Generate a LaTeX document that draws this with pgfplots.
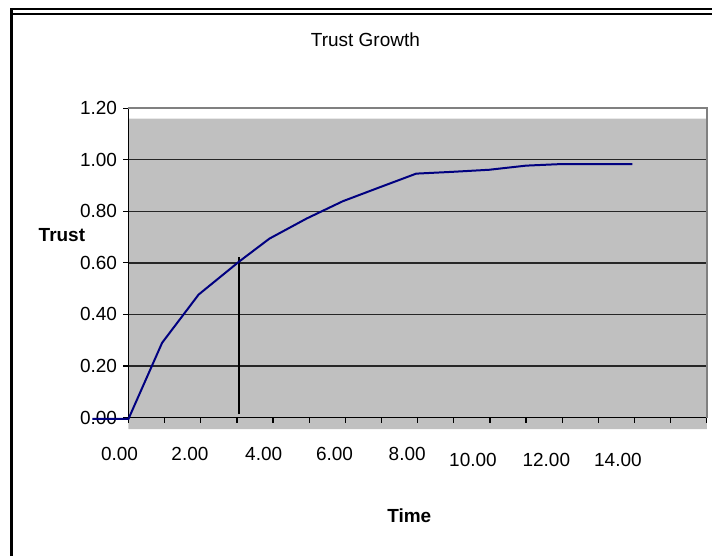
\documentclass[border=0pt]{standalone}
\usepackage{fontspec}
\setmainfont{Liberation Sans}
\usepackage{pgfplots}
\pgfplotsset{compat=1.18}
\definecolor{plotgray}{RGB}{192,192,192}
\definecolor{bordergray}{RGB}{128,128,128}
\definecolor{trustblue}{RGB}{0,0,128}
\begin{document}
\fontsize{19bp}{22bp}\selectfont
\begin{tikzpicture}
\path (0bp,0bp) rectangle (713bp,-557bp);
% chart frame
\draw[line width=2.4bp] (11.5bp,-557bp) -- (11.5bp,-9bp) -- (713bp,-9bp);
\draw[line width=1.6bp] (12.7bp,-14.3bp) -- (713bp,-14.3bp);
\node at (366bp,-40bp) {Trust Growth};
\node[font=\bfseries] at (62bp,-235bp) {Trust};
\node[font=\bfseries] at (410bp,-517bp) {Time};
\begin{axis}[
  at={(128.7bp,-418.3bp)}, anchor=south west,
  scale only axis, width=579.3bp, height=310bp,
  set layers, clip=false,
  xmin=0, xmax=16, ymin=0, ymax=1.2,
  axis x line*=bottom, axis y line*=left,
  axis line style={black, line width=1.4bp},
  tick align=outside,
  xtick={0,1.70,3.74,5.70,7.71,9.53,11.56,13.54},
  xticklabels={\hspace*{-18bp}0.00,2.00,4.00,6.00,8.00,
    \raisebox{-6bp}[\height][\depth]{10.00},
    \raisebox{-6bp}[\height][\depth]{12.00},
    \raisebox{-6bp}[\height][\depth]{14.00}},
  xticklabel style={yshift=-18bp},
  major x tick style={draw=none},
  minor xtick={0,1,...,16},
  minor tick length=5bp,
  minor x tick style={black, line width=1.2bp},
  ytick={0,0.2,0.4,0.6,0.8,1.0,1.2},
  major tick length=5bp,
  major y tick style={black, line width=1.2bp},
  yticklabel style={/pgf/number format/.cd, fixed, fixed zerofill, precision=2},
  /pgf/number format/assume math mode=true,
  tick label style={font=\fontsize{19bp}{22bp}\selectfont},
  ymajorgrids,
  grid style={black!85, line width=1.3bp},
]
% plot area fill
\addplot[on layer=axis background, fill=plotgray, draw=none]
  coordinates {(0,-0.045) (16,-0.045) (16,1.159) (0,1.159) (0,-0.045)};
% plot area border (top and right)
\addplot[bordergray, line width=1.4bp] coordinates {(0,1.2) (16,1.2) (16,0)};
% marker line
\addplot[black, line width=2bp] coordinates {(3.07,0.013) (3.07,0.623)};
% trust curve
\addplot[trustblue, line width=2bp] coordinates {
  (-1,-0.005) (0,-0.005) (0.93,0.29) (1.94,0.477) (3.07,0.606) (3.9,0.694)
  (4.93,0.772) (5.93,0.839) (6.95,0.893) (7.96,0.946) (8.97,0.953)
  (9.98,0.961) (11,0.977) (11.96,0.983) (12.95,0.983) (13.94,0.983)
};
\end{axis}
\end{tikzpicture}
\end{document}
